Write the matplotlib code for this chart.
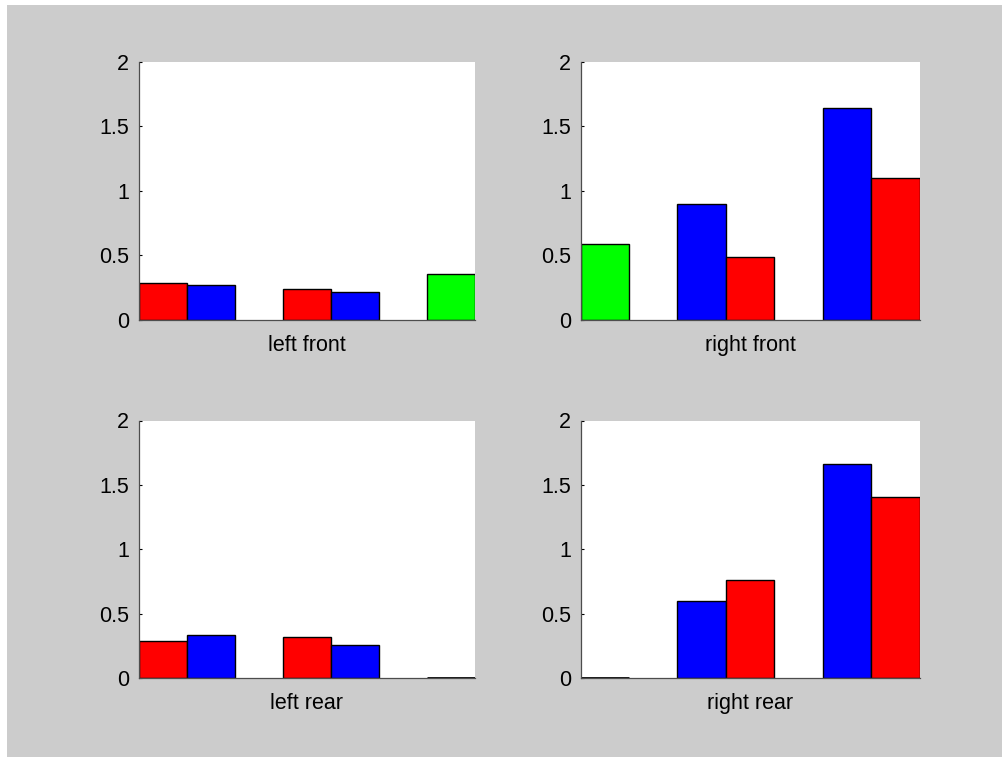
import matplotlib
matplotlib.use('Agg')
import matplotlib.pyplot as plt
from matplotlib.patches import Rectangle

plt.rcParams['font.family'] = ['Liberation Sans', 'DejaVu Sans']

# bar heights per group: (left slot, right slot), None = no bar drawn
left_front = [(0.28, 0.27), (0.24, 0.21), (0.35, None)]
left_front_colors = [('red', 'blue'), ('red', 'blue'), ('lime', None)]
right_front = [(None, 0.585), (0.90, 0.485), (1.645, 1.10)]
right_front_colors = [(None, 'lime'), ('blue', 'red'), ('blue', 'red')]
left_rear = [(0.29, 0.335), (0.32, 0.255), (0.0, None)]
left_rear_colors = [('red', 'blue'), ('red', 'blue'), ('black', None)]
right_rear = [(None, 0.0), (0.60, 0.765), (1.66, 1.405)]
right_rear_colors = [(None, 'black'), ('blue', 'red'), ('blue', 'red')]

titles = ['left front', 'right front', 'left rear', 'right rear']
yticks = [0, 0.5, 1, 1.5, 2]
yticklabels = ['0', '0.5', '1', '1.5', '2']

W, H = 1002, 757
fig = plt.figure(figsize=(W / 100, H / 100), dpi=100, facecolor='white')
bg = Rectangle((7 / W, 0), 1, 752 / H, transform=fig.transFigure,
               facecolor='#cccccc', edgecolor='none', zorder=-10)
fig.add_artist(bg)

bw = 1 / 3
panels = [
    (left_front, left_front_colors, [138.5, 319.5, 336.5], (1 - bw, 3)),
    (right_front, right_front_colors, [580.5, 319.5, 339], (1, 3 + bw)),
    (left_rear, left_rear_colors, [138.5, 678, 336.5], (1 - bw, 3)),
    (right_rear, right_rear_colors, [580.5, 678, 339], (1, 3 + bw)),
]

for (vals, cols, (x0, ybot, w), xlim), title in zip(panels, titles):
    ax = fig.add_axes([x0 / W, (H - ybot) / H, w / W, 257.5 / H])
    for g, (pair, cpair) in enumerate(zip(vals, cols)):
        c = g + 1
        for k, (v, col) in enumerate(zip(pair, cpair)):
            if v is None:
                continue
            x = c - bw if k == 0 else c
            fc = col if v > 0 else 'white'
            ax.bar(x, v, width=bw, align='edge', color=fc, edgecolor='black',
                   linewidth=1.0 if v > 0 else 2.0, zorder=2)
    ax.set_xlim(*xlim)
    ax.set_ylim(0, 2)
    ax.set_yticks(yticks)
    ax.set_yticklabels(yticklabels)
    ax.set_xticks([])
    ax.tick_params(axis='y', direction='in', length=2.5, width=0.8, pad=7,
                   labelsize=15.5, colors='black')
    for s in ['top', 'right']:
        ax.spines[s].set_visible(False)
    for s in ['left', 'bottom']:
        ax.spines[s].set_color('0.3')
        ax.spines[s].set_linewidth(0.9)
    ax.set_xlabel(title, fontsize=15.5, labelpad=11)

plt.savefig('out.png', dpi=100, facecolor=fig.get_facecolor())
